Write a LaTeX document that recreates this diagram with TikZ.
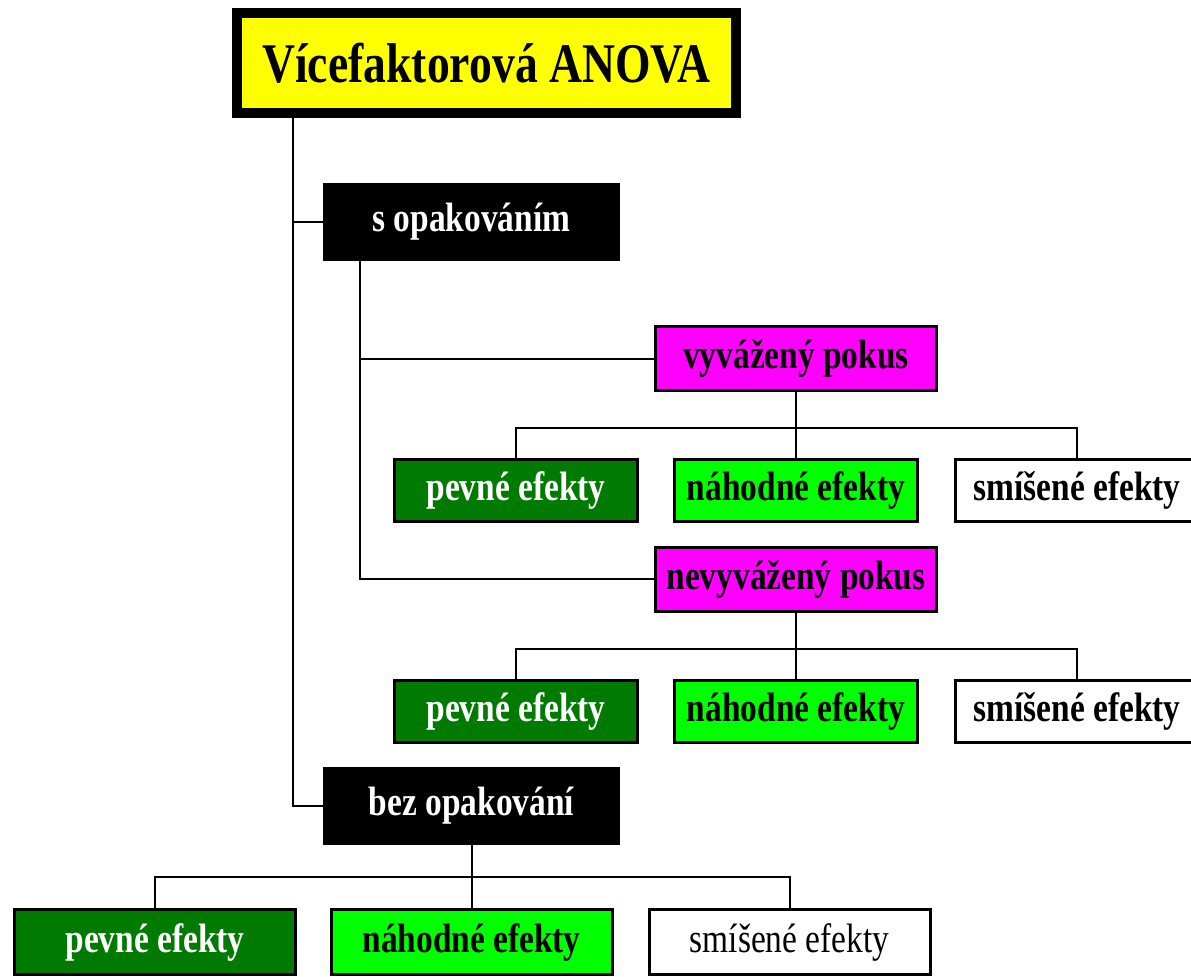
\documentclass[tikz,border=0pt]{standalone}
\usepackage{fontspec}
\setmainfont{Liberation Serif}[FakeStretch=0.815]
\usepackage{tikz}
\usetikzlibrary{positioning,calc}
\definecolor{anovaZluta}{HTML}{FFFF00}
\definecolor{anovaFialova}{HTML}{FF00FF}
\definecolor{anovaTmZelena}{HTML}{007A00}
\definecolor{anovaSvZelena}{HTML}{00FF00}

\begin{document}
\begin{tikzpicture}[
        x=0.75pt,
        y=-0.75pt,
        link/.style={draw=black, line width=1.5pt},
        hlavni/.style={fill=anovaZluta, draw=black, line width=7.5pt, inner sep=0pt,
            minimum width=374.25pt, minimum height=75pt,
            font=\fontsize{42}{48}\selectfont\bfseries},
        cerny/.style={fill=black, text=white, inner sep=0pt,
            minimum width=222.75pt, minimum height=58.5pt,
            font=\fontsize{30.75}{36}\selectfont\bfseries},
        pokus/.style={fill=anovaFialova, draw=black, line width=2.25pt, inner sep=0pt,
            minimum width=210.75pt, minimum height=48pt,
            font=\fontsize{30.75}{36}\selectfont\bfseries},
        efekt/.style={draw=black, line width=2.25pt, inner sep=0pt,
            minimum width=182.25pt, minimum height=46.5pt,
            font=\fontsize{30.75}{36}\selectfont\bfseries},
        efektdole/.style={efekt, minimum width=210.75pt, minimum height=48.75pt},
        pevne/.style={fill=anovaTmZelena, text=white},
        nahodne/.style={fill=anovaSvZelena},
        smisene/.style={fill=white}
    ]
        \useasboundingbox (0,0) rectangle (1191,976);
        \clip (0,0) rectangle (1191,976);

        % Nadpis s dvojitym ramem
        \node[hlavni] (title) at (486.5,63) {Vícefaktorová ANOVA};
        \draw[line width=1.5pt] ([shift={(9,9)}]title.north west) rectangle ([shift={(-9,-9)}]title.south east);

        % Hlavni vetve
        \node[cerny] (sopak) at (471.5,222) {s opakováním};
        \node[cerny] (bez) at (471.5,806) {bez opakování};

        \node[pokus] (vyv) at (796,358.5) {vyvážený pokus};
        \node[pokus] (nevyv) at (796,579) {nevyvážený pokus};

        % Efekty pod vyvazenym pokusem
        \node[efekt, pevne] (pev1) at (516,490.5) {pevné efekty};
        \node[efekt, nahodne] (nah1) at (796,490.5) {náhodné efekty};
        \node[efekt, smisene] (smi1) at (1077,490.5) {smíšené efekty};

        % Efekty pod nevyvazenym pokusem
        \node[efekt, pevne] (pev2) at (516,711) {pevné efekty};
        \node[efekt, nahodne] (nah2) at (796,711) {náhodné efekty};
        \node[efekt, smisene] (smi2) at (1077,711) {smíšené efekty};

        % Efekty bez opakovani
        \node[efektdole, pevne] (pev3) at (155,942) {pevné efekty};
        \node[efektdole, nahodne] (nah3) at (471.5,942) {náhodné efekty};
        \node[efektdole, smisene, font=\fontsize{30.75}{36}\selectfont\mdseries] (smi3) at (789.5,942) {smíšené efekty};

        % Spojnice
        \coordinate (kmen) at (293,113);
        \draw[link] (kmen) |- (bez.west);
        \draw[link] (kmen |- sopak.west) -- (sopak.west);

        \coordinate (sopakpata) at ([xshift=27.75pt]sopak.south west);
        \draw[link] (sopakpata) |- (nevyv.west);
        \draw[link] (sopakpata |- vyv.west) -- (vyv.west);

        \foreach \k in {pev1,nah1,smi1}
            \draw[link] (vyv.south) -- ++(0,36) -| (\k.north);
        \foreach \k in {pev2,nah2,smi2}
            \draw[link] (nevyv.south) -- ++(0,36) -| (\k.north);
        \foreach \k in {pev3,nah3,smi3}
            \draw[link] (bez.south) -- ++(0,32) -| (\k.north);
    \end{tikzpicture}
\end{document}
